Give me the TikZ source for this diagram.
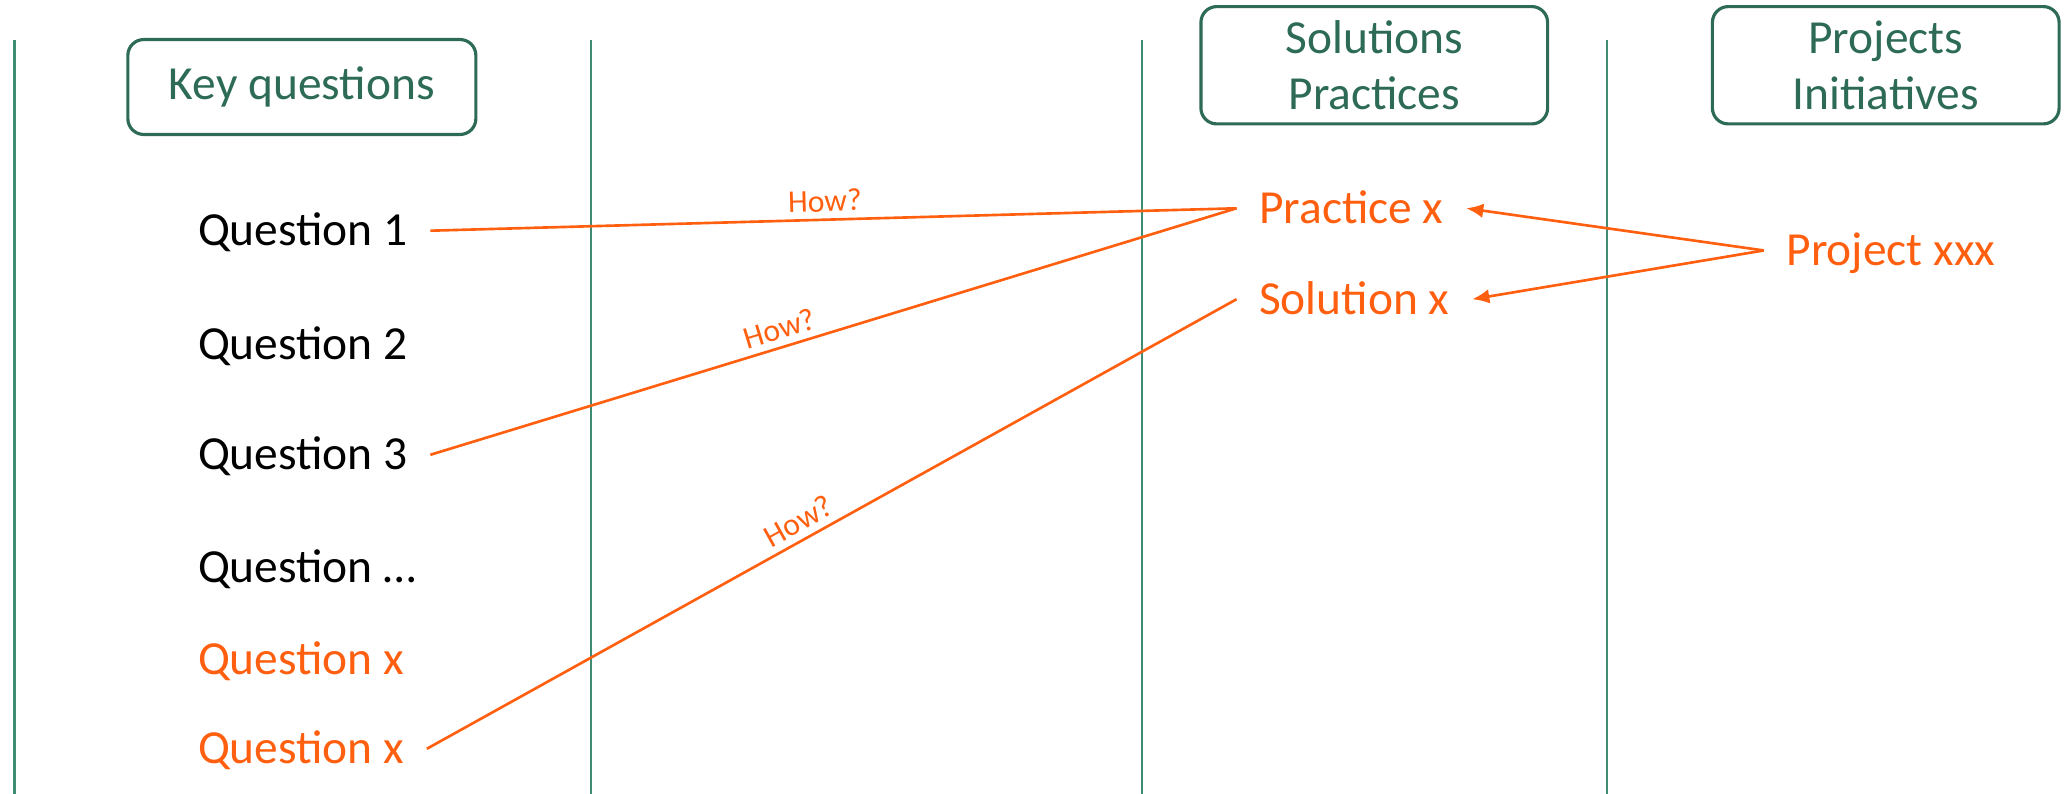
\documentclass[tikz,border=0pt]{standalone}
\usepackage{fontspec}
\setmainfont{Carlito}
\usetikzlibrary{arrows.meta}
\definecolor{og}{HTML}{FF5F0F}
\definecolor{gline}{HTML}{3F8C73}
\definecolor{gbox}{HTML}{2D6B57}
\begin{document}
\begin{tikzpicture}[x=1pt,y=-1pt,
  divider/.style={gline,line width=1.6pt},
  header/.style={draw=gbox,line width=2.4pt,rounded corners=12pt,text=gbox,align=center,
    font=\fontsize{36}{42}\selectfont,inner sep=0pt},
  item/.style={anchor=west,inner xsep=17pt,inner ysep=0pt,text height=23pt,text depth=0pt,
    font=\fontsize{36}{42}\selectfont},
  link/.style={og,line width=2pt},
  how/.style={og,font=\fontsize{24}{28}\selectfont,sloped,above=3pt,inner sep=2pt},
  tip/.style={-{Latex[length=13pt,width=11pt]}}]
\useasboundingbox (0,0) rectangle (1568,602);
% dividers
\draw[divider] (11,30) -- (11,602);
\draw[divider] (448,30) -- (448,602);
\draw[divider] (866,30) -- (866,602);
\draw[divider] (1219,30) -- (1219,602);
% headers
\node[header,minimum width=264pt,minimum height=72pt] (hk) at (229,66) {Key questions};
\node[header,minimum width=263pt,minimum height=89pt] (hs) at (1042.5,49.5) {Solutions\\Practices};
\node[header,minimum width=263pt,minimum height=89pt] (hp) at (1430.5,49.5) {Projects\\Initiatives};
% questions
\node[item] (q1) at (133,175) {Question 1};
\node[item] (q2) at (133,261) {Question 2};
\node[item] (q3) at (133,345) {Question 3};
\node[item] (q4) at (133,430) {Question \ldots};
\node[item,text=og] (q5) at (133,500) {Question x};
\node[item,text=og] (q6) at (133,568) {Question x};
% solutions / practices
\node[item,text=og] (px) at (938,158) {Practice x};
\node[item,text=og] (sx) at (938,227) {Solution x};
\node[item,text=og] (pj) at (1338,190) {Project xxx};
% connectors
\draw[link] (q1.east) -- node[how,pos=0.49] {How?} (px.west);
\draw[link] (q3.east) -- node[how,pos=0.44] {How?} (px.west);
\draw[link] (q6.east) -- node[how,pos=0.47] {How?} (sx.west);
\draw[link,tip] (pj.west) -- (px.east);
\draw[link,tip] (pj.west) -- (sx.east);
\end{tikzpicture}
\end{document}
